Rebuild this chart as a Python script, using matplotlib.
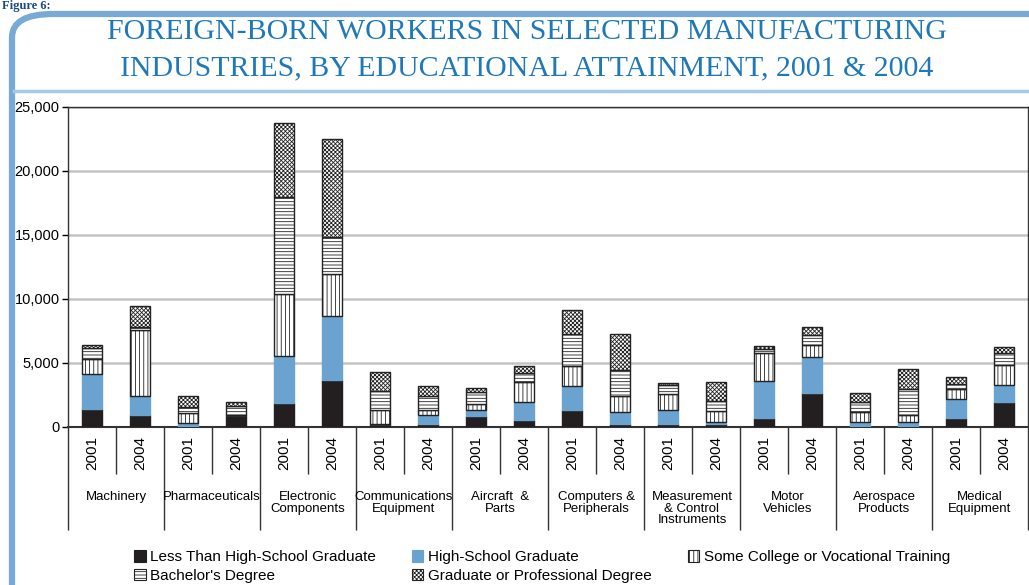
import matplotlib.pyplot as plt
from matplotlib.patches import FancyBboxPatch, Patch
from matplotlib.lines import Line2D
import numpy as np

plt.rcParams['hatch.linewidth'] = 0.6

industries = ["Machinery", "Pharmaceuticals", "Electronic\nComponents", "Communications\nEquipment",
              "Aircraft  &\nParts", "Computers &\nPeripherals", "Measurement\n& Control\nInstruments",
              "Motor\nVehicles", "Aerospace\nProducts", "Medical\nEquipment"]
years = ["2001", "2004"]

# one value per bar: industry x (2001, 2004)
less_hs = [1400, 960, 20, 900, 1870, 3690, 230, 210, 830, 570,
           1350, 210, 230, 210, 675, 2620, 0, 0, 730, 1950]
hs_grad = [2730, 1480, 290, 0, 3660, 5010, 0, 750, 520, 1380,
           1845, 990, 1120, 210, 2910, 2830, 390, 360, 1480, 1350]
some_college = [1220, 5140, 780, 0, 4880, 3220, 1070, 340, 470, 1560,
                1560, 1245, 1220, 830, 2230, 960, 750, 600, 780, 1530]
bachelor = [800, 260, 470, 710, 7560, 2935, 1530, 1140, 910, 700,
            2490, 2000, 675, 780, 310, 780, 800, 2030, 390, 935]
graduate = [230, 1580, 860, 310, 5790, 7610, 1455, 730, 310, 570,
            1870, 2855, 155, 1480, 180, 600, 680, 1530, 545, 470]

series = [("Less Than High-School Graduate", less_hs),
          ("High-School Graduate", hs_grad),
          ("Some College or Vocational Training", some_college),
          ("Bachelor's Degree", bachelor),
          ("Graduate or Professional Degree", graduate)]
faces = ['#231f20', '#6aa3d0', 'white', 'white', 'white']
hatches = [None, None, '||||', '-----', 'xxxxxxxx']

blue_txt = '#1f78b8'

fig = plt.figure(figsize=(10.29, 5.85), dpi=100)

# rounded blue frame around the figure
frame = FancyBboxPatch((12 / 1029, -0.05), 1.1, 1 - 14 / 585 + 0.05,
                       boxstyle="round,pad=0,rounding_size=0.04",
                       transform=fig.transFigure, fill=False,
                       ec='#78aad6', lw=4.5, clip_on=False)
fig.patches.append(frame)
fig.add_artist(Line2D([14 / 1029, 1.0], [1 - 91 / 585] * 2, transform=fig.transFigure,
                      color='#a8c9e6', lw=2.5))
fig.text(2 / 1029, 1.0, "Figure 6:", ha='left', va='top', fontsize=9, fontweight='bold',
         color='#1b4a80', family='Liberation Serif')

fig.text(0.512, 1 - 32 / 585, "FOREIGN-BORN WORKERS IN SELECTED MANUFACTURING",
         ha='center', va='center', fontsize=21.5, color=blue_txt, family='Liberation Serif')
fig.text(0.512, 1 - 68 / 585, "INDUSTRIES, BY EDUCATIONAL ATTAINMENT, 2001 & 2004",
         ha='center', va='center', fontsize=21.5, color=blue_txt, family='Liberation Serif')

ax = fig.add_axes([68 / 1029, 1 - 427 / 585, 960 / 1029, 320 / 585])
x = np.arange(len(less_hs))
bottom = np.zeros(len(x))
for (name, vals), fc, h in zip(series, faces, hatches):
    vals = np.array(vals, dtype=float)
    ec = fc if h is None else '#222222'
    ax.bar(x, vals, width=0.42, bottom=bottom, color=fc, edgecolor=ec, hatch=h,
           linewidth=1.0, zorder=3)
    bottom += vals

ax.set_xlim(-0.5, len(x) - 0.5)
ax.set_ylim(0, 25000)
ax.set_yticks(np.arange(0, 25001, 5000))
ax.set_yticklabels([f"{v:,}" for v in range(0, 25001, 5000)], fontsize=10.5,
                   family='Liberation Sans')
ax.yaxis.grid(True, color='#c4c4c4', lw=1.8)
ax.set_axisbelow(True)
for s in ['top', 'right', 'left', 'bottom']:
    ax.spines[s].set_color('#333333')
    ax.spines[s].set_linewidth(1.0)
ax.spines['bottom'].set_linewidth(1.5)

# separators below the axis: long ones between industries, short ones between years
ax.set_xticks(np.arange(-0.5, len(x), 2))
ax.set_xticks(np.arange(0.5, len(x), 2), minor=True)
ax.tick_params(axis='x', which='major', length=74, width=1.0, color='#333333', labelbottom=False)
ax.tick_params(axis='x', which='minor', length=34, width=1.0, color='#333333')
ax.tick_params(axis='y', length=4, width=1.0, pad=2)

tr = ax.get_xaxis_transform()
for i in x:
    ax.text(i, -0.08, years[i % 2], transform=tr, rotation=90, ha='center', va='center',
            fontsize=11, family='Liberation Sans')
for k, lab in enumerate(industries):
    ax.text(2 * k + 0.5, -0.2, lab, transform=tr, ha='center', va='top',
            fontsize=9.5, family='Liberation Sans', linespacing=0.95)

# legend fills column by column: reorder so rows read like the original
order = [0, 3, 1, 4, 2]
handles = [Patch(facecolor=faces[i], edgecolor='#222222' if hatches[i] else faces[i],
                 hatch=hatches[i], lw=0.8) for i in order]
labels = [series[i][0] for i in order]
fig.legend(handles, labels, ncol=3, loc='lower left',
           bbox_to_anchor=(125 / 1029, -0.012), frameon=False, borderaxespad=0.2,
           handlelength=0.75, handleheight=0.75, handletextpad=0.3,
           columnspacing=2.35, labelspacing=0.3, prop={'family': 'Liberation Sans', 'size': 11})

fig.savefig("out.png", dpi=100)
